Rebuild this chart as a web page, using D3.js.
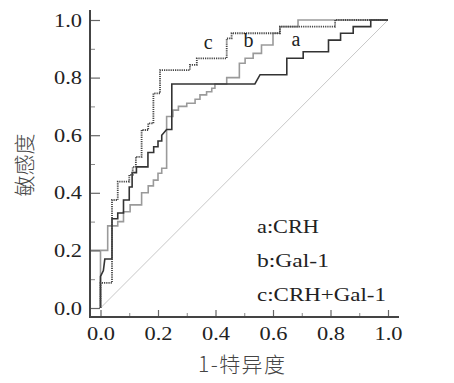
<!DOCTYPE html>
<html><head><meta charset="utf-8">
<script src="https://cdn.jsdelivr.net/npm/d3@7"></script>
<style>body{margin:0;background:#fff}svg{display:block}</style>
</head><body>
<script>
const majorTicks = [0, 0.2, 0.4, 0.6, 0.8, 1.0];
const minorTicks = [0.1, 0.3, 0.5, 0.7, 0.9];
const tickLabels = ["0.0","0.2","0.4","0.6","0.8","1.0"];
const legendItems = ["a:CRH", "b:Gal-1", "c:CRH+Gal-1"];
const xTitle = "1-特异度";
const yTitle = "敏感度";
// ROC curve a: CRH  [1-specificity, sensitivity]
const curveA = [[0,0],[0,0.11],[0.01,0.13],[0.015,0.17],[0.04,0.17],[0.04,0.31],[0.06,0.31],[0.06,0.33],[0.08,0.33],[0.08,0.375],[0.1,0.375],[0.1,0.42],[0.11,0.42],[0.11,0.47],[0.125,0.47],[0.125,0.49],[0.165,0.49],[0.165,0.54],[0.185,0.54],[0.185,0.56],[0.2,0.56],[0.2,0.58],[0.213,0.58],[0.213,0.60],[0.23,0.62],[0.248,0.62],[0.248,0.778],[0.537,0.778],[0.555,0.81],[0.648,0.81],[0.648,0.84],[0.648,0.867],[0.705,0.867],[0.705,0.89],[0.793,0.89],[0.793,0.93],[0.835,0.93],[0.835,0.954],[0.879,0.954],[0.879,0.977],[0.94,0.977],[0.94,1],[1,1]];
// ROC curve b: Gal-1
const curveB = [[0,0],[0,0.2],[-0.035,0.2],[0.025,0.2],[0.025,0.285],[0.06,0.285],[0.06,0.30],[0.08,0.30],[0.08,0.334],[0.103,0.334],[0.103,0.358],[0.143,0.358],[0.143,0.40],[0.166,0.40],[0.166,0.424],[0.184,0.424],[0.184,0.444],[0.2,0.444],[0.2,0.468],[0.213,0.468],[0.213,0.485],[0.23,0.485],[0.23,0.665],[0.252,0.665],[0.252,0.687],[0.271,0.687],[0.271,0.70],[0.30,0.70],[0.30,0.711],[0.329,0.711],[0.329,0.725],[0.346,0.725],[0.346,0.74],[0.369,0.74],[0.369,0.751],[0.387,0.751],[0.387,0.763],[0.398,0.763],[0.398,0.778],[0.439,0.778],[0.439,0.80],[0.483,0.80],[0.483,0.85],[0.503,0.85],[0.503,0.867],[0.531,0.867],[0.531,0.884],[0.56,0.884],[0.56,0.913],[0.60,0.913],[0.60,0.954],[0.624,0.954],[0.624,0.977],[0.687,0.977],[0.687,1],[1,1]];
// ROC curve c: CRH+Gal-1
const curveC = [[0,0],[0,0.087],[0.04,0.087],[0.04,0.375],[0.06,0.375],[0.06,0.439],[0.1,0.439],[0.1,0.462],[0.112,0.462],[0.112,0.49],[0.123,0.49],[0.123,0.525],[0.143,0.525],[0.143,0.618],[0.166,0.618],[0.166,0.641],[0.184,0.641],[0.184,0.745],[0.207,0.745],[0.207,0.826],[0.311,0.826],[0.311,0.844],[0.335,0.844],[0.335,0.867],[0.439,0.867],[0.439,0.936],[0.456,0.936],[0.456,0.954],[0.624,0.954],[0.624,0.977],[0.816,0.977],[0.816,1],[1,1]];
const diagonal = [[0,0],[1,1]];
const curveLabels = [{t:"c", x:0.375, y:0.9}, {t:"b", x:0.515, y:0.905}, {t:"a", x:0.68, y:0.91}];
const legendWidths = [62, 72, 129];

const W = 454, H = 383;
const svg = d3.select("body").append("svg").attr("width", W).attr("height", H);
const x = d3.scaleLinear().domain([0,1]).range([100.5, 388]);
const y = d3.scaleLinear().domain([0,1]).range([308, 20]);
const axisLeftX = 90, axisBottomY = 317;
const numFont = "'Liberation Serif','Times New Roman',serif";
const cjkFont = "'Noto Sans CJK SC','Noto Sans CJK JP',sans-serif";

// diagonal
const line = d3.line().x(d => x(d[0])).y(d => y(d[1]));
svg.append("path").attr("d", line(diagonal)).attr("fill","none").attr("stroke","#c8c8c8").attr("stroke-width",1);

// curves
svg.append("path").attr("d", line(curveB)).attr("fill","none").attr("stroke","#9a9a9a").attr("stroke-width",1.6);
svg.append("path").attr("d", line(curveA)).attr("fill","none").attr("stroke","#333").attr("stroke-width",1.6);
svg.append("path").attr("d", line(curveC)).attr("fill","none").attr("stroke","#444").attr("stroke-width",1.8).attr("stroke-dasharray","1.2,1");

// y axis
const gy = svg.append("g").attr("transform", `translate(${axisLeftX},0)`)
  .call(d3.axisLeft(y).tickValues(majorTicks).tickSize(-10).tickSizeOuter(0).tickPadding(8).tickFormat((d,i)=>tickLabels[i]));
gy.select(".domain").remove();
gy.selectAll("line").attr("stroke","#666").attr("stroke-width",1.2);
gy.selectAll("text").attr("font-family", numFont).attr("font-size", 19).attr("fill","#222")
  .attr("textLength", 28).attr("lengthAdjust","spacingAndGlyphs");
const gy2 = svg.append("g").attr("transform", `translate(${axisLeftX},0)`)
  .call(d3.axisLeft(y).tickValues(minorTicks).tickSize(-5).tickSizeOuter(0).tickFormat(""));
gy2.select(".domain").remove();
gy2.selectAll("line").attr("stroke","#888").attr("stroke-width",1);

// x axis
const gx = svg.append("g").attr("transform", `translate(0,${axisBottomY})`)
  .call(d3.axisBottom(x).tickValues(majorTicks).tickSize(-7).tickSizeOuter(0).tickPadding(10).tickFormat((d,i)=>tickLabels[i]));
gx.select(".domain").remove();
gx.selectAll("line").attr("stroke","#666").attr("stroke-width",1.2);
gx.selectAll("text").attr("font-family", numFont).attr("font-size", 19).attr("fill","#222")
  .attr("textLength", 28).attr("lengthAdjust","spacingAndGlyphs");
const gx2 = svg.append("g").attr("transform", `translate(0,${axisBottomY})`)
  .call(d3.axisBottom(x).tickValues(minorTicks).tickSize(-4).tickSizeOuter(0).tickFormat(""));
gx2.select(".domain").remove();
gx2.selectAll("line").attr("stroke","#888").attr("stroke-width",1);

// axis lines
svg.append("line").attr("x1",axisLeftX).attr("x2",axisLeftX).attr("y1",10).attr("y2",axisBottomY+1).attr("stroke","#444").attr("stroke-width",2);
svg.append("line").attr("x1",axisLeftX-1).attr("x2",399).attr("y1",axisBottomY).attr("y2",axisBottomY).attr("stroke","#444").attr("stroke-width",2);

// titles
svg.append("text").attr("transform", `translate(32,165) rotate(-90)`).attr("text-anchor","middle")
  .attr("font-family", cjkFont).attr("font-size", 21).attr("font-weight", 300).attr("fill","#444").text(yTitle);
svg.append("text").attr("x", 198).attr("y", 372)
  .attr("font-family", cjkFont).attr("font-size", 21).attr("font-weight", 300).attr("fill","#444")
  .attr("textLength", 87).attr("lengthAdjust","spacing").text(xTitle);

// curve labels
svg.selectAll(".cl").data(curveLabels).join("text").attr("class","cl")
  .attr("x", d => x(d.x)).attr("y", d => y(d.y)).attr("text-anchor","middle")
  .attr("font-family", numFont).attr("font-size", 20).attr("fill","#222").text(d => d.t);

// legend
svg.selectAll(".lg").data(legendItems).join("text").attr("class","lg")
  .attr("x", 257).attr("y", (d,i) => 233 + i*34)
  .attr("font-family", numFont).attr("font-size", 18).attr("fill","#222")
  .attr("textLength", (d,i) => legendWidths[i]).attr("lengthAdjust","spacingAndGlyphs").text(d => d);
</script>
</body></html>
